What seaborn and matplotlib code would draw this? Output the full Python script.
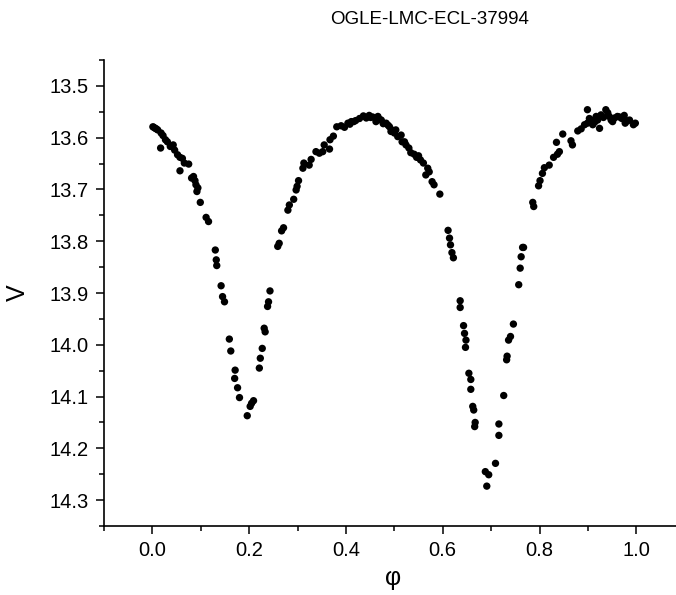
import numpy as np
import pandas as pd
import matplotlib
matplotlib.use("Agg")
import matplotlib.pyplot as plt
import seaborn as sns
from matplotlib.ticker import MultipleLocator

# phase-folded light curve
phase = [
    0.001, 0.006, 0.011, 0.018, 0.017, 0.027, 0.037, 0.043, 0.052, 0.057,
    0.057, 0.066, 0.075, 0.085, 0.088, 0.090, 0.092, 0.099, 0.111, 0.116,
    0.130, 0.132, 0.133, 0.142, 0.145, 0.149, 0.159, 0.162, 0.171, 0.170,
    0.176, 0.180, 0.196, 0.202, 0.205, 0.209, 0.221, 0.223, 0.227, 0.231,
    0.233, 0.238, 0.240, 0.243, 0.259, 0.262, 0.267, 0.271, 0.280, 0.283,
    0.292, 0.297, 0.299, 0.302, 0.311, 0.313, 0.324, 0.328, 0.338, 0.345,
    0.352, 0.355, 0.366, 0.367, 0.374, 0.381, 0.390, 0.397, 0.404, 0.411,
    0.416, 0.436, 0.448, 0.455, 0.462, 0.466, 0.473, 0.477, 0.483, 0.490,
    0.493, 0.500, 0.503, 0.507, 0.514, 0.516, 0.521, 0.524, 0.534, 0.546,
    0.550, 0.554, 0.560, 0.565, 0.569, 0.572, 0.578, 0.582, 0.594, 0.611,
    0.614, 0.616, 0.619, 0.622, 0.636, 0.636, 0.643, 0.645, 0.648, 0.647,
    0.654, 0.658, 0.658, 0.662, 0.664, 0.667, 0.666, 0.688, 0.695, 0.691,
    0.709, 0.716, 0.716, 0.726, 0.732, 0.733, 0.736, 0.740, 0.746, 0.757,
    0.760, 0.762, 0.765, 0.767, 0.786, 0.788, 0.798, 0.801, 0.806, 0.810,
    0.820, 0.829, 0.837, 0.841, 0.835, 0.848, 0.865, 0.868, 0.879, 0.886,
    0.899, 0.893, 0.899, 0.906, 0.910, 0.917, 0.920, 0.924, 0.927, 0.937,
    0.941, 0.944, 0.951, 0.955, 0.961, 0.975, 0.977, 0.986, 0.994, 0.003,
    0.008, 0.022, 0.031, 0.046, 0.062, 0.081, 0.094, 0.408, 0.420, 0.428,
    0.442, 0.451, 0.470, 0.487, 0.497, 0.530, 0.541, 0.903, 0.914, 0.932,
    0.948, 0.965, 0.970, 0.981, 0.998,
]
v_mag = [
    13.579, 13.582, 13.585, 13.591, 13.620, 13.604, 13.617, 13.614, 13.633, 13.638,
    13.664, 13.649, 13.651, 13.675, 13.683, 13.691, 13.704, 13.725, 13.754, 13.762,
    13.817, 13.836, 13.847, 13.886, 13.907, 13.917, 13.989, 14.012, 14.049, 14.065,
    14.083, 14.102, 14.137, 14.119, 14.113, 14.108, 14.045, 14.026, 14.007, 13.968,
    13.975, 13.926, 13.917, 13.896, 13.810, 13.804, 13.780, 13.774, 13.740, 13.730,
    13.719, 13.701, 13.694, 13.683, 13.659, 13.649, 13.653, 13.642, 13.627, 13.630,
    13.627, 13.614, 13.622, 13.604, 13.597, 13.579, 13.577, 13.580, 13.572, 13.569,
    13.569, 13.558, 13.557, 13.560, 13.569, 13.559, 13.566, 13.573, 13.572, 13.579,
    13.588, 13.591, 13.585, 13.598, 13.595, 13.608, 13.608, 13.614, 13.629, 13.638,
    13.635, 13.643, 13.649, 13.672, 13.659, 13.666, 13.685, 13.691, 13.709, 13.779,
    13.794, 13.807, 13.822, 13.832, 13.915, 13.928, 13.963, 13.978, 13.991, 14.005,
    14.055, 14.067, 14.086, 14.119, 14.126, 14.150, 14.158, 14.245, 14.251, 14.273,
    14.229, 14.175, 14.153, 14.098, 14.029, 14.022, 13.991, 13.984, 13.960, 13.884,
    13.852, 13.830, 13.812, 13.812, 13.725, 13.733, 13.693, 13.683, 13.669, 13.658,
    13.653, 13.638, 13.632, 13.627, 13.609, 13.593, 13.606, 13.614, 13.587, 13.583,
    13.546, 13.575, 13.572, 13.566, 13.575, 13.559, 13.566, 13.582, 13.556, 13.546,
    13.552, 13.559, 13.569, 13.562, 13.559, 13.557, 13.572, 13.566, 13.575, 13.580,
    13.583, 13.596, 13.608, 13.624, 13.640, 13.678, 13.697, 13.574, 13.567, 13.563,
    13.562, 13.561, 13.565, 13.576, 13.586, 13.620, 13.632, 13.563, 13.570, 13.561,
    13.566, 13.560, 13.563, 13.568, 13.572,
]

df = pd.DataFrame({"phase": phase, "V": v_mag})

sns.set_style("ticks")
plt.rcParams["font.family"] = ["Liberation Sans", "DejaVu Sans"]
plt.rcParams["text.color"] = "black"
plt.rcParams["axes.labelcolor"] = "black"

fig = plt.figure(figsize=(6.76, 5.95), dpi=100)
ax = fig.add_axes([104 / 676, 1 - 526 / 595, 572 / 676, 466 / 595])

sns.scatterplot(data=df, x="phase", y="V", color="black", s=28,
                edgecolor="none", ax=ax, legend=False)

ax.set_xlim(-0.1, 1.082)
ax.set_ylim(14.35, 13.45)
ax.xaxis.set_minor_locator(MultipleLocator(0.1))
ax.yaxis.set_minor_locator(MultipleLocator(0.05))
ax.set_xticks([0.0, 0.2, 0.4, 0.6, 0.8, 1.0])
ax.set_yticks(np.round(np.arange(13.5, 14.31, 0.1), 1))

for s in ["top", "right"]:
    ax.spines[s].set_visible(False)
for s in ["left", "bottom"]:
    ax.spines[s].set_linewidth(1.2)
    ax.spines[s].set_color("black")

ax.tick_params(which="major", direction="out", length=6, width=1.1,
               labelsize=14.5, colors="black", pad=5)
ax.tick_params(which="minor", direction="out", length=3.5, width=1.1,
               colors="black")

ax.set_xlabel("φ", fontsize=18)
ax.set_ylabel("V", fontsize=18)
ax.xaxis.set_label_coords(0.505, -0.085)
ax.yaxis.set_label_coords(-0.13, 0.5)

fig.text(430 / 676, 1 - 20 / 595, "OGLE-LMC-ECL-37994", ha="center",
         va="center", fontsize=13.5)

fig.savefig("out.png", dpi=100)
